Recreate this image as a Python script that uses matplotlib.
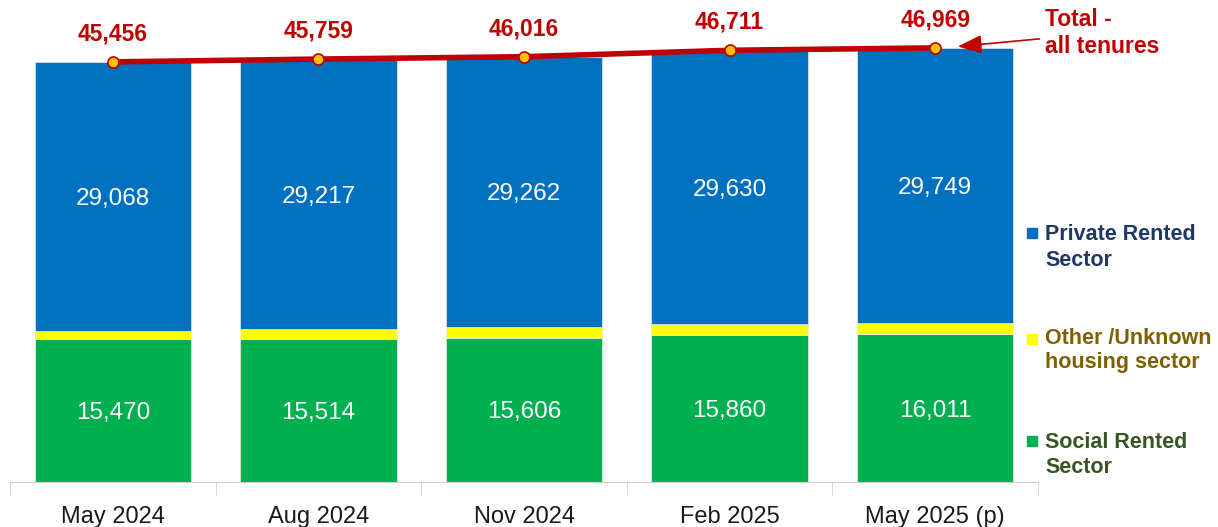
import numpy as np
import matplotlib
matplotlib.use("Agg")
import matplotlib.pyplot as plt
from matplotlib.patches import Rectangle

plt.rcParams['font.family'] = ['Liberation Sans', 'DejaVu Sans']

# Dati
periods = ['May 2024', 'Aug 2024', 'Nov 2024', 'Feb 2025', 'May 2025 (p)']
social = [15470, 15514, 15606, 15860, 16011]
private = [29068, 29217, 29262, 29630, 29749]
total = [45456, 45759, 46016, 46711, 46969]
other = [t - s - p for t, s, p in zip(total, social, private)]  # resto = altro/sconosciuto

BLUE = '#0070C0'
YELLOW = '#FFFF00'
GREEN = '#00B050'
RED = '#C00000'

W, H = 1218, 527
fig = plt.figure(figsize=(W / 100, H / 100), dpi=100)
ax = fig.add_axes([10 / W, 45 / H, 1028 / W, 482 / H])

x = np.arange(len(periods))
bw = 0.76
ax.bar(x, social, bw, color=GREEN, edgecolor='#e8f0e8', linewidth=0.5)
ax.bar(x, other, bw, bottom=social, color=YELLOW, edgecolor='#e8f0e8', linewidth=0.5)
ax.bar(x, private, bw, bottom=np.array(social) + np.array(other), color=BLUE,
       edgecolor='#e0e8f0', linewidth=0.5)

# Etichette dentro le barre
for i in range(len(x)):
    ax.text(x[i], social[i] / 2, f'{social[i]:,}', ha='center', va='center_baseline',
            color='white', fontsize=17.5)
    ax.text(x[i], social[i] + other[i] + private[i] / 2, f'{private[i]:,}',
            ha='center', va='center_baseline', color='white', fontsize=17.5)

# Linea del totale
ax.plot(x, total, color=RED, lw=4, solid_capstyle='butt', zorder=3)
ax.plot(x, total, 'o', ms=8, mfc='#FFC000', mec=RED, mew=1.2, zorder=4)
for i in range(len(x)):
    ax.annotate(f'{total[i]:,}', (x[i], total[i]), xytext=(0, 12),
                textcoords='offset points', ha='center', va='bottom',
                color=RED, fontsize=16.5, fontweight='bold')

ax.annotate('Total -\nall tenures', xy=(x[-1] + 0.11, total[-1] + 150),
            xytext=(1045 / W, 1 - 33 / H), textcoords='figure fraction',
            ha='left', va='center', color=RED, fontsize=16.5, fontweight='bold',
            linespacing=1.25, annotation_clip=False,
            arrowprops=dict(arrowstyle='-|>,head_length=0.9,head_width=0.35',
                            color=RED, lw=1.2, shrinkA=2, shrinkB=0))

ax.set_xlim(-0.5, len(x) - 0.5)
ax.set_ylim(0, 52150)
ax.set_yticks([])
for s in ['top', 'right', 'left']:
    ax.spines[s].set_visible(False)
ax.spines['bottom'].set_color('#d0d0d0')
ax.set_xticks(x)
ax.set_xticklabels(periods, fontsize=17, color='#1a1a1a')
ax.tick_params(axis='x', length=0, pad=17)
ax.set_xticks(np.arange(len(x) + 1) - 0.5, minor=True)
ax.tick_params(axis='x', which='minor', length=9, color='#d0d0d0')

# Legenda manuale
legend = [
    ('Private Rented\nSector', BLUE, '#1F3864', 233, 262),
    ('Other /Unknown\nhousing sector', YELLOW, '#7F6000', 339, 362),
    ('Social Rented\nSector', GREEN, '#375623', 441, 469),
]
for label, fc, tc, y1, y2 in legend:
    fig.add_artist(Rectangle((1027 / W, 1 - (y1 + 5) / H), 10 / W, 10 / H,
                             transform=fig.transFigure, color=fc))
    fig.text(1045 / W, 1 - (y1 + y2) / 2 / H, label, ha='left', va='center',
             color=tc, fontsize=15.5, fontweight='bold',
             linespacing=1.1 + (y2 - y1 - 22) / 30)

fig.savefig('out.png', dpi=100)
